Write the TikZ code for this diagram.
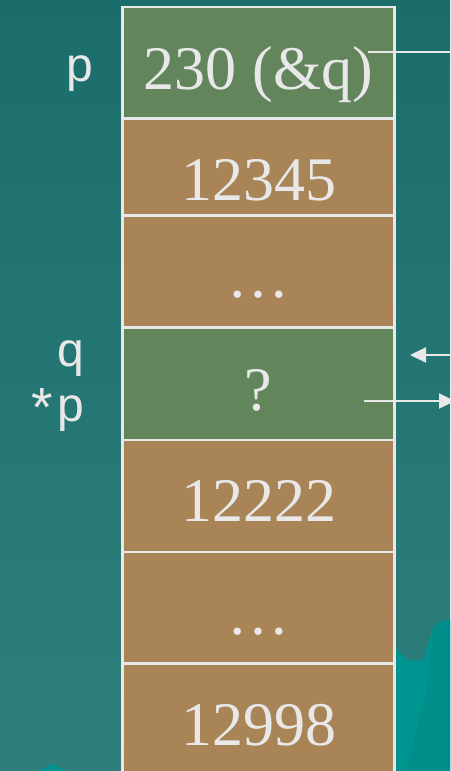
\documentclass[tikz,border=0pt]{standalone}
\usepackage{fontspec}
\setmainfont{Liberation Serif}
\newfontfamily\lsans{Liberation Sans}
\usetikzlibrary{arrows.meta}
\definecolor{bgtop}{RGB}{27,109,108}
\definecolor{bgbot}{RGB}{46,127,124}
\definecolor{cellgreen}{RGB}{98,133,92}
\definecolor{cellbrown}{RGB}{169,132,87}
\definecolor{ink}{RGB}{232,232,232}
\definecolor{hill}{RGB}{0,148,144}
\definecolor{hilldark}{RGB}{0,142,138}
\tikzset{
  cell/.style={draw=ink, line width=2.5pt, minimum width=272pt, inner sep=0pt, outer sep=0pt},
  val/.style={text=ink, font=\fontsize{62}{62}\selectfont, inner sep=0pt, anchor=base},
  lab/.style={text=ink, font=\lsans\fontsize{48}{48}\selectfont, inner sep=0pt, anchor=base east},
  conn/.style={draw=ink, line width=2pt},
  tip/.style={-{Triangle[length=16pt,width=15pt]}}
}
\begin{document}
\begin{tikzpicture}[x=1pt,y=-1pt]
\useasboundingbox (0,0) rectangle (450,771);
\clip (0,0) rectangle (450,771);
% background
\fill[top color=bgtop, bottom color=bgbot] (0,0) rectangle (450,771);
\fill[hill] (395,648) -- (408,660) -- (423,660) -- (433,628) -- (440,622) -- (450,619) -- (450,771) -- (395,771) -- cycle;
\fill[hilldark] (433,628) -- (440,622) -- (450,619) -- (450,771) -- (405,771) -- (425,700) -- cycle;
\fill[hill] (38,771) -- (53,764) -- (67,771) -- cycle;
% cells
\node[cell, fill=cellgreen, minimum height=111.5pt] (r1) at (258.5,62.75) {};
\node[cell, fill=cellbrown, minimum height=97pt]    (r2) at (258.5,167) {};
\node[cell, fill=cellbrown, minimum height=112pt]   (r3) at (258.5,271.5) {};
\node[cell, fill=cellgreen, minimum height=112.5pt] (r4) at (258.5,383.75) {};
\node[cell, fill=cellbrown, minimum height=112pt]   (r5) at (258.5,496) {};
\node[cell, fill=cellbrown, minimum height=111.5pt] (r6) at (258.5,607.75) {};
\node[cell, fill=cellbrown, minimum height=116.5pt] (r7) at (258.5,721.75) {};
% values
\node[val] (t1) at (258.5,89) {230 (\&q)};
\node[val] (t2) at (258.5,200.5) {12345};
\node[val] (t3) at (258.5,297.5) {…};
\node[val] (t4) at (258.5,410) {?};
\node[val] (t5) at (258.5,521.5) {12222};
\node[val] (t6) at (258.5,634.5) {…};
\node[val] (t7) at (258.5,745.5) {12998};
% labels
\node[lab] (lp) at (93,81) {p};
\node[lab] (lq) at (84,366) {q};
\node[lab] (lsp) at (84,421) {\raisebox{-5pt}{\scalebox{1.15}{*}}\kern4pt p};
% connectors
\coordinate (s1) at (368,52);
\coordinate (e1) at (452,52);
\draw[conn] (s1) -- (e1);
\coordinate (s2) at (452,355);
\coordinate (e2) at (410,355);
\draw[conn, tip] (s2) -- (e2);
\coordinate (s3) at (364,401);
\coordinate (e3) at (455,401);
\draw[conn, tip] (s3) -- (e3);
\end{tikzpicture}
\end{document}
